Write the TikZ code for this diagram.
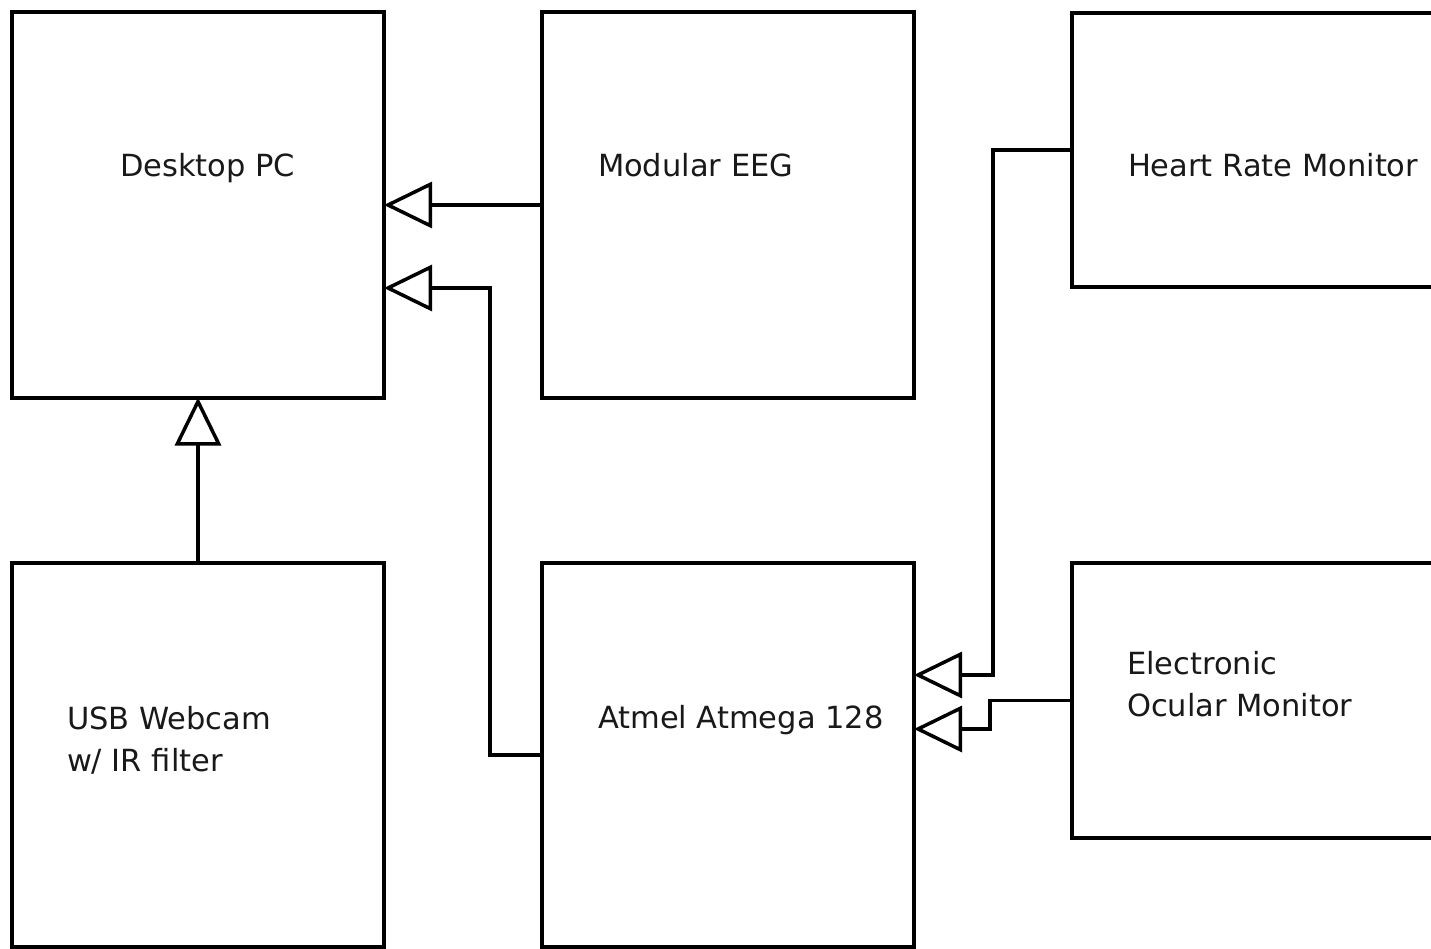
\documentclass[tikz,border=0pt]{standalone}
\usepackage{fontspec}
\setmainfont{DejaVu Sans}
\usepackage{tikz}
\usetikzlibrary{arrows.meta}
\tikzstyle{block}=[draw=black,rectangle,line width=4pt,inner sep=0pt,outer sep=0pt,minimum width=372pt]
\tikzstyle{lbl}=[anchor=base west,inner sep=0pt,outer sep=0pt,align=left,text=black!90,font=\fontsize{30.5}{42}\selectfont]
\tikzstyle{link}=[draw=black,line width=3.5pt,-{Triangle[open,length=48pt,width=46pt]}]

\begin{document}
\begin{tikzpicture}[x=1pt,y=1pt]
\useasboundingbox (0,0) rectangle (1431,-949);
\clip (0,0) rectangle (1431,-949);
\node[block,minimum height=385pt] (pc) at (198,-205) {};
\node[block,minimum height=385pt] (eeg) at (728,-205) {};
\node[block,minimum width=362pt,minimum height=274pt] (hrm) at (1253,-150) {};
\node[block,minimum height=384pt] (cam) at (198,-755) {};
\node[block,minimum height=384pt] (atm) at (728,-755) {};
\node[block,minimum width=362pt,minimum height=275pt] (eom) at (1253,-700.5) {};
\node[lbl] (pcT) at (120,-177) {Desktop PC};
\node[lbl] (eegT) at (598,-177) {Modular EEG};
\node[lbl] (hrmT) at (1128,-177) {Heart Rate Monitor};
\node[lbl] (camT) at (67,-771) {USB Webcam\\w/ IR filter};
\node[lbl] (atmT) at (598,-728) {Atmel Atmega 128};
\node[lbl] (eomT) at (1127,-716) {Electronic\\Ocular Monitor};
\coordinate (j1) at (490,-288);
\coordinate (j2) at (993,-675);
\coordinate (j3) at (990,-729);
\draw[link] (eeg) -- (pc);
\draw[link] (cam) -- (pc);
\draw[link] (atm.west) -| (j1) -- (j1 -| pc.east);
\draw[link] (hrm.west) -| (j2) -- (j2 -| atm.east);
\draw[link] (eom.west) -| (j3) -- (j3 -| atm.east);
\end{tikzpicture}
\end{document}
